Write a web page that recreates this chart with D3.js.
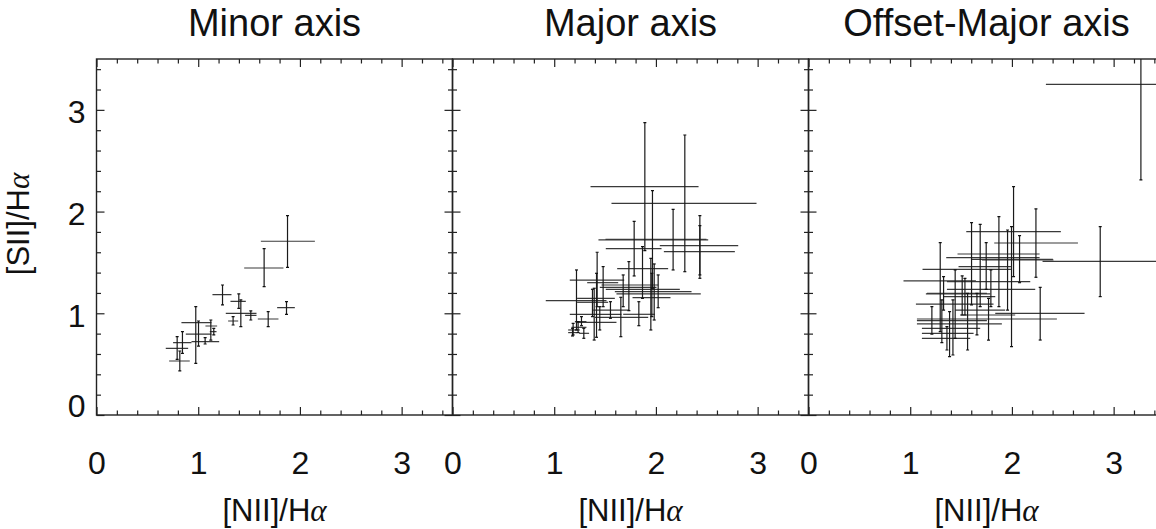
<!DOCTYPE html>
<html>
<head>
<meta charset="utf-8">
<script src="https://cdn.jsdelivr.net/npm/d3@7"></script>
<style>
  body { margin: 0; background: #fff; }
  text { font-family: "Liberation Sans", Helvetica, Arial, sans-serif; fill: #111; }
</style>
</head>
<body>
<script>
// each row: [x, y, xLow, xHigh, yLow, yHigh]
let minorAxis = [
    [1.878, 1.708, 1.616, 2.147, 1.452, 1.960],
    [1.648, 1.445, 1.452, 1.838, 1.262, 1.636],
    [1.239, 1.183, 1.140, 1.327, 1.082, 1.278],
    [1.399, 1.118, 1.317, 1.468, 1.049, 1.190],
    [1.419, 1.000, 1.271, 1.573, 0.869, 1.131],
    [1.517, 0.980, 1.461, 1.573, 0.934, 1.023],
    [1.343, 0.924, 1.294, 1.393, 0.885, 0.967],
    [1.688, 0.944, 1.586, 1.789, 0.869, 1.016],
    [1.868, 1.055, 1.776, 1.950, 0.990, 1.114],
    [0.976, 0.908, 0.835, 1.130, 0.508, 1.065],
    [1.003, 0.796, 0.878, 1.130, 0.678, 0.924],
    [1.124, 0.875, 1.071, 1.186, 0.737, 0.934],
    [1.153, 0.819, 1.114, 1.180, 0.787, 0.852],
    [1.068, 0.721, 0.934, 1.206, 0.698, 0.760],
    [0.845, 0.711, 0.753, 0.934, 0.606, 0.819],
    [0.793, 0.656, 0.681, 0.901, 0.547, 0.770],
    [0.819, 0.531, 0.714, 0.917, 0.433, 0.629]
]

let majorAxis = [
    [1.891, 2.245, 1.357, 2.419, 1.616, 2.874],
    [2.284, 2.081, 1.563, 2.989, 1.409, 2.753],
    [1.966, 1.727, 1.504, 2.497, 1.246, 2.206],
    [2.169, 1.721, 1.435, 2.514, 1.426, 2.022],
    [2.432, 1.665, 2.038, 2.809, 1.377, 1.960],
    [2.432, 1.606, 2.078, 2.776, 1.344, 1.862],
    [1.786, 1.636, 1.507, 2.055, 1.367, 1.904],
    [1.868, 1.439, 1.619, 2.120, 1.147, 1.655],
    [1.219, 1.124, 0.917, 1.514, 0.836, 1.426],
    [1.422, 1.327, 1.153, 1.688, 1.065, 1.600],
    [1.416, 1.147, 1.225, 1.596, 0.764, 1.393],
    [1.481, 1.301, 1.324, 1.629, 1.065, 1.459],
    [1.393, 0.990, 1.153, 1.661, 0.737, 1.246],
    [1.376, 1.108, 1.225, 1.530, 0.967, 1.236],
    [1.678, 1.255, 1.448, 2.006, 1.065, 1.377],
    [1.734, 1.278, 1.465, 2.022, 1.026, 1.508],
    [1.983, 1.213, 1.596, 2.350, 0.934, 1.485],
    [2.022, 1.190, 1.612, 2.441, 1.055, 1.377],
    [1.950, 1.236, 1.507, 2.235, 0.836, 1.540],
    [1.832, 0.990, 1.678, 1.989, 0.878, 1.114],
    [1.553, 1.032, 1.383, 1.737, 0.951, 1.114],
    [1.655, 0.960, 1.399, 1.924, 0.770, 1.157],
    [1.960, 1.154, 1.770, 2.143, 0.967, 1.393],
    [1.448, 0.911, 1.212, 1.612, 0.836, 1.065],
    [1.186, 0.836, 1.137, 1.252, 0.787, 0.901],
    [1.235, 0.862, 1.170, 1.317, 0.810, 0.918],
    [1.291, 0.803, 1.245, 1.343, 0.754, 0.852],
    [1.180, 0.810, 1.137, 1.225, 0.777, 0.852],
    [1.268, 0.918, 1.203, 1.317, 0.878, 0.967]
]

let offsetMajorAxis = [
    [3.268, 3.251, 2.334, 4.202, 2.311, 4.192],
    [2.868, 1.511, 2.301, 3.435, 1.164, 1.852],
    [2.016, 1.803, 1.551, 2.481, 1.360, 2.245],
    [2.236, 1.691, 1.826, 2.649, 1.354, 2.026],
    [1.872, 1.531, 1.597, 2.403, 1.065, 1.950],
    [1.603, 1.432, 1.121, 1.990, 1.082, 1.891],
    [1.688, 1.547, 1.354, 2.272, 1.065, 1.875],
    [1.957, 1.583, 1.465, 2.272, 1.032, 1.819],
    [1.996, 0.944, 1.066, 2.442, 0.672, 1.852],
    [2.075, 1.524, 1.705, 2.409, 1.301, 1.763],
    [1.747, 1.459, 1.475, 1.990, 1.236, 1.695],
    [1.295, 1.318, 0.934, 1.646, 0.819, 1.695],
    [2.278, 1.000, 1.836, 2.714, 0.737, 1.255],
    [1.213, 0.928, 1.066, 1.754, 0.796, 1.065],
    [1.311, 0.895, 1.066, 1.901, 0.711, 1.131],
    [1.387, 0.803, 1.115, 1.623, 0.574, 1.016],
    [1.420, 0.852, 1.115, 1.688, 0.590, 1.131],
    [1.442, 1.091, 1.056, 1.819, 0.754, 1.426],
    [1.511, 1.190, 1.154, 1.787, 0.983, 1.367],
    [1.564, 1.164, 1.328, 1.836, 0.639, 1.196],
    [1.656, 1.032, 1.442, 1.934, 0.787, 1.196],
    [1.770, 0.983, 1.492, 2.032, 0.737, 1.147],
    [1.328, 1.196, 1.164, 1.754, 1.032, 1.360],
    [1.538, 1.311, 1.361, 2.180, 0.983, 1.344],
    [1.793, 1.236, 1.361, 2.229, 1.065, 1.426],
    [1.361, 0.754, 1.115, 1.590, 0.639, 0.869]
]

let panelTitles = ["Minor axis", "Major axis", "Offset-Major axis"]
let panelData = [minorAxis, majorAxis, offsetMajorAxis]
let majorTicks = [0, 1, 2, 3]
let minorTicks = [0.2, 0.4, 0.6, 0.8, 1.2, 1.4, 1.6, 1.8, 2.2, 2.4, 2.6, 2.8, 3.2, 3.4]
let xTitle = "[NII]/H"
let yTitle = "[SII]/H"

let margin = {top: 59, left: 96.5}
let size = 356

let svg = d3.select("body")
    .append("svg")
    .attr("width", 1156)
    .attr("height", 529)

let x = d3.scaleLinear().domain([0, 3.5]).range([0, size])
let y = d3.scaleLinear().domain([0, 3.5]).range([size, 0])

panelData.forEach((data, i) => {
    let left = margin.left + i * size
    let g = svg.append("g")
        .attr("transform", "translate(" + left + "," + margin.top + ")")

    svg.append("clipPath").attr("id", "clip" + i)
        .append("rect").attr("width", size).attr("height", size)

    // minor + major ticks on all four sides, pointing inward
    let sides = [
        {axis: d3.axisBottom, t: "translate(0," + size + ")", s: x},
        {axis: d3.axisTop, t: "translate(0,0)", s: x},
        {axis: d3.axisLeft, t: "translate(0,0)", s: y},
        {axis: d3.axisRight, t: "translate(" + size + ",0)", s: y}
    ]
    sides.forEach(side => {
        g.append("g").attr("transform", side.t)
            .call(side.axis(side.s).tickValues(minorTicks).tickSizeInner(-4.5).tickSizeOuter(0).tickFormat(""))
        g.append("g").attr("transform", side.t)
            .call(side.axis(side.s).tickValues(majorTicks).tickSizeInner(-8).tickSizeOuter(0).tickFormat(""))
    })
    g.selectAll(".domain").remove()
    g.selectAll(".tick line").attr("stroke", "#222").attr("stroke-width", 1.2)

    // x tick labels
    g.append("g").attr("transform", "translate(0," + size + ")")
        .call(d3.axisBottom(x).tickValues(majorTicks).tickSize(0).tickPadding(36).tickFormat(d3.format("d")))
        .call(a => a.select(".domain").remove())
        .selectAll("text").attr("font-size", 32).attr("font-family", null)

    if (i === 0) {
        g.append("g")
            .call(d3.axisLeft(y).tickValues(majorTicks).tickSize(0).tickPadding(11).tickFormat(d3.format("d")))
            .call(a => a.select(".domain").remove())
            .selectAll("text").attr("font-size", 32).attr("font-family", null)
            .attr("dy", d => d === 0 ? "0.05em" : "0.4em")
    }

    // error bars
    let bars = g.append("g").attr("clip-path", "url(#clip" + i + ")")
    bars.selectAll(".hbar")
        .data(data)
        .enter()
        .append("line")
        .attr("x1", d => x(d[2]))
        .attr("x2", d => x(d[3]))
        .attr("y1", d => y(d[1]))
        .attr("y2", d => y(d[1]))
        .attr("stroke", "#3a3a3a")
        .attr("stroke-width", 1.2)
    bars.selectAll(".vbar")
        .data(data)
        .enter()
        .append("line")
        .attr("x1", d => x(d[0]))
        .attr("x2", d => x(d[0]))
        .attr("y1", d => y(d[4]))
        .attr("y2", d => y(d[5]))
        .attr("stroke", "#1a1a1a")
        .attr("stroke-width", 1.2)
    // small caps at the ends of vertical bars
    ;[4, 5].forEach(k => {
        bars.selectAll(".cap" + k)
            .data(data)
            .enter()
            .append("line")
            .attr("x1", d => x(d[0]) - 1.5)
            .attr("x2", d => x(d[0]) + 1.5)
            .attr("y1", d => y(d[k]))
            .attr("y2", d => y(d[k]))
            .attr("stroke", "#111")
            .attr("stroke-width", 1.2)
    })

    // frame
    g.append("rect")
        .attr("width", size)
        .attr("height", size)
        .attr("fill", "none")
        .attr("stroke", "#222")
        .attr("stroke-width", 1.4)

    svg.append("text")
        .attr("x", left + size / 2)
        .attr("y", 36)
        .attr("text-anchor", "middle")
        .attr("font-size", 38)
        .text(panelTitles[i])

    let xt = svg.append("text")
        .attr("x", left + size / 2)
        .attr("y", 521)
        .attr("text-anchor", "middle")
        .attr("font-size", 31)
        .text(xTitle)
    xt.append("tspan")
        .style("font-family", "'Liberation Serif', 'DejaVu Serif', serif")
        .style("font-style", "italic")
        .text("α")
})

let yt = svg.append("text")
    .attr("transform", "translate(29,224) rotate(-90)")
    .attr("text-anchor", "middle")
    .attr("font-size", 31)
    .text(yTitle)
yt.append("tspan")
    .style("font-family", "'Liberation Serif', 'DejaVu Serif', serif")
    .style("font-style", "italic")
    .text("α")
</script>
</body>
</html>
